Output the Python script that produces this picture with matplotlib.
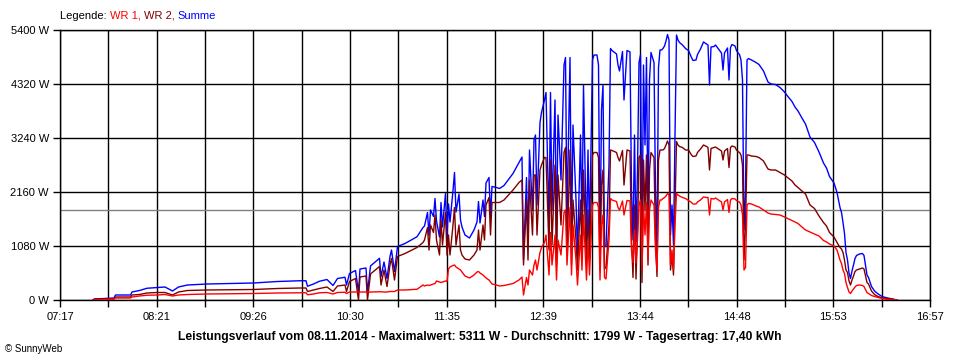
import numpy as np
import matplotlib
matplotlib.use("Agg")
import matplotlib.pyplot as plt

plt.rcParams['font.family'] = ['Liberation Sans', 'DejaVu Sans']
plt.rcParams['font.size'] = 8

# Zeit in Minuten seit Mitternacht, Leistung in W
zeit = [459, 460, 473, 474, 484, 485, 490, 495, 502, 507, 512, 516, 522, 535, 550, 566, 582, 597,
        601, 602, 606, 610, 615, 619, 622, 627, 628, 630, 634, 636, 637, 641, 642, 644, 650, 651,
        653, 655, 657, 658, 660, 662, 667, 675, 679, 680, 682, 683, 684, 686, 687, 688, 690, 691,
        692, 694, 695, 696, 697, 699, 700, 701, 703, 704, 705, 707, 710, 713, 715, 716, 717, 719,
        720, 721, 723, 724, 725, 728, 730, 733, 739, 743, 745, 746, 748, 749, 750, 752, 753, 754,
        755, 757, 758, 760, 761, 763, 764, 765, 767, 768, 769, 771, 773, 774, 775, 777, 778, 779,
        781, 782, 784, 785, 786, 788, 789, 790, 792, 793, 795, 796, 797, 798, 799, 800, 801, 803,
        804, 805, 808, 809, 810, 812, 813, 815, 817, 818, 819, 820, 821, 822, 823, 824, 825, 826,
        827, 828, 829, 830, 831, 832, 833, 834, 835, 836, 837, 838, 839, 840, 841, 842, 843, 844,
        845, 846, 847, 848, 849, 850, 852, 854, 856, 858, 859, 861, 862, 864, 866, 868, 869, 870,
        871, 873, 874, 876, 878, 879, 880, 882, 883, 884, 885, 887, 888, 889, 890, 891, 892, 893,
        894, 895, 896, 898, 901, 903, 906, 909, 911, 914, 917, 920, 922, 925, 927, 929, 932, 934,
        937, 940, 943, 946, 948, 950, 953, 955, 957, 958, 959, 960, 961, 962, 963, 964, 965, 966,
        967, 968, 970, 972, 973, 975, 976, 978, 980, 982, 985, 988, 991, 994, 995]

wr1 = [0, 0, 20, 40, 40, 60, 80, 95, 100, 110, 80, 100, 110, 120, 125, 130, 140, 145,
       145, 105, 120, 145, 150, 120, 150, 155, 130, 160, 160, 160, 160, 160, 150, 160, 165, 165,
       160, 160, 170, 170, 170, 200, 200, 215, 300, 280, 300, 290, 300, 320, 330, 380, 360, 350,
       360, 380, 370, 620, 660, 690, 700, 660, 620, 600, 560, 480, 440, 500, 560, 570, 540, 500,
       470, 440, 400, 360, 320, 300, 280, 290, 330, 400, 460, 100, 450, 300, 600, 500, 700, 800,
       600, 950, 1050, 1150, 1300, 500, 1350, 700, 1300, 400, 1200, 900, 1750, 1800, 700, 1850, 500, 1500,
       800, 300, 1300, 600, 1700, 400, 1200, 500, 1900, 1950, 1950, 1850, 400, 1500, 1700, 450, 420, 1200,
       2030, 2000, 1970, 1850, 1800, 1980, 1700, 1990, 1980, 1000, 750, 1400, 740, 1200, 1900, 2000, 600, 1900,
       1300, 1950, 800, 1800, 2000, 1950, 1900, 1000, 600, 1850, 2000, 2000, 2030, 2050, 2080, 2130, 2100, 700,
       1000, 600, 1500, 2130, 2100, 2080, 2050, 2030, 1990, 1950, 1920, 1920, 1960, 2000, 2060, 2050, 2050, 1700,
       2030, 2020, 2040, 2000, 1960, 1800, 1960, 2010, 1750, 2000, 2030, 2020, 1990, 1970, 1960, 1900, 1700, 600,
       650, 1900, 1930, 1920, 1880, 1860, 1800, 1740, 1720, 1710, 1700, 1660, 1630, 1590, 1560, 1530, 1450, 1400,
       1360, 1320, 1280, 1190, 1160, 1120, 1080, 1000, 800, 730, 600, 530, 350, 250, 160, 130, 180, 220,
       260, 290, 300, 290, 270, 150, 130, 90, 70, 55, 30, 15, 5, 0, 0]

wr2 = [0, 20, 20, 60, 60, 100, 110, 140, 150, 150, 100, 160, 190, 200, 205, 210, 230, 240,
       240, 170, 200, 230, 260, 170, 280, 300, 170, 370, 430, 0, 460, 480, 0, 520, 670, 300,
       600, 270, 700, 830, 400, 870, 930, 1050, 1150, 1200, 1450, 1000, 1500, 1350, 1700, 1200, 900, 1600,
       1100, 1750, 900, 1300, 900, 1500, 1850, 1100, 1500, 1000, 900, 820, 800, 900, 1000, 1400, 1000, 1500,
       1200, 1900, 2050, 1300, 1950, 1950, 1950, 2000, 2200, 2350, 2400, 700, 2000, 800, 2400, 1300, 2500, 2500,
       1300, 2600, 2700, 2850, 2850, 1000, 2800, 1100, 2700, 700, 2500, 1500, 2950, 3050, 900, 3000, 700, 2000,
       1200, 600, 2000, 900, 2600, 700, 1800, 800, 2900, 2950, 2950, 2850, 600, 2300, 2600, 620, 650, 1500,
       3000, 2990, 2950, 2850, 2780, 2990, 2300, 3000, 2980, 1200, 450, 1900, 420, 1400, 2850, 2900, 350, 2800,
       1800, 2900, 700, 2600, 2950, 2900, 2850, 1200, 470, 2800, 3000, 3000, 3000, 3030, 3100, 3180, 3100, 600,
       900, 500, 1800, 3170, 3100, 3070, 3050, 3000, 3000, 2900, 2870, 2880, 2950, 3020, 3100, 3070, 3050, 2600,
       3030, 3050, 3060, 3020, 2980, 2800, 2980, 3030, 2650, 3050, 3080, 3060, 3000, 2970, 2950, 2900, 2700, 800,
       1500, 2900, 2900, 2880, 2870, 2850, 2780, 2620, 2600, 2600, 2550, 2500, 2450, 2380, 2300, 2250, 2170, 2120,
       1900, 1830, 1680, 1550, 1480, 1350, 1260, 1150, 1050, 1020, 950, 800, 600, 550, 380, 300, 400, 480,
       570, 600, 620, 640, 620, 350, 320, 180, 110, 75, 40, 30, 20, 5, 0]

summe = np.array(wr1) + np.array(wr2)
durchschnitt = 1799

y_ticks = [0, 1080, 2160, 3240, 4320, 5400]
x_labels = ["07:17", "08:21", "09:26", "10:30", "11:35", "12:39", "13:44", "14:48", "15:53", "16:57"]
t_start, t_end = 437, 1017

fig = plt.figure(figsize=(9.6, 3.6), dpi=100)
ax = fig.add_axes([60/960, 60/360, 870/960, 270/360])

# Gitter
xt = np.linspace(t_start, t_end, 19)
for x in xt:
    ax.axvline(x, color='black', lw=1.0, zorder=1)
for y in y_ticks:
    ax.axhline(y, color='black', lw=1.0, zorder=1)
ax.axhline(durchschnitt, color='#808080', lw=1.0, zorder=2)

ax.plot(zeit, summe, color='#0000ff', lw=1.0, zorder=3)
ax.plot(zeit, wr2, color='#800000', lw=1.0, zorder=4)
ax.plot(zeit, wr1, color='#ff0000', lw=1.0, zorder=5)

ax.set_xlim(t_start, t_end)
ax.set_ylim(0, 5400)
ax.set_xticks(xt)
lbls = []
for i in range(19):
    lbls.append(x_labels[i // 2] if i % 2 == 0 else "")
ax.set_xticklabels(lbls)
ax.set_yticks(y_ticks)
ax.set_yticklabels([f"{v} W" for v in y_ticks])
ax.tick_params(axis='both', direction='out', length=5, width=1, color='black', labelsize=8)
ax.tick_params(axis='x', pad=4)
ax.tick_params(axis='y', pad=3)
for s in ax.spines.values():
    s.set_linewidth(1.0)
    s.set_color('black')

# Legende als farbiger Text
fig.canvas.draw()
r = fig.canvas.get_renderer()
x0 = 60
parts = [("Legende: ", "black"), ("WR 1, ", "#ff0000"), ("WR 2, ", "#800000"), ("Summe", "#0000ff")]
for txt, col in parts:
    t = fig.text(x0/960, 1 - 16/360, txt, color=col, fontsize=8, ha='left', va='center')
    bb = t.get_window_extent(renderer=r)
    x0 += bb.width

fig.text(0.5, 1 - 337/360,
         "Leistungsverlauf vom 08.11.2014 - Maximalwert: 5311 W - Durchschnitt: 1799 W - Tagesertrag: 17,40 kWh",
         ha='center', va='center', fontsize=8.7, fontweight='bold')
fig.text(5/960, 1 - 349/360, "© SunnyWeb", ha='left', va='center', fontsize=7)

fig.savefig("out.png", dpi=100, facecolor='white')
